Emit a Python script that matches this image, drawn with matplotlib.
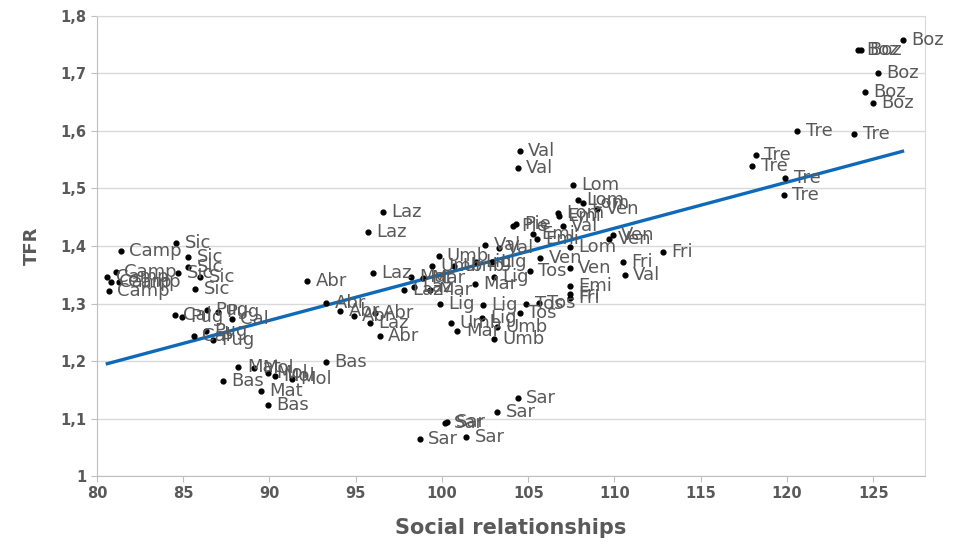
import numpy as np
import matplotlib.pyplot as plt

plt.rcParams['font.family'] = ['DejaVu Sans']

# Region labels, social relationships index (x) and TFR (y)
regions = (['Boz'] * 6 + ['Tre'] * 6 + ['Val'] * 6 + ['Lom'] * 5 + ['Ven'] * 5
           + ['Emi'] * 4 + ['Pie'] * 2 + ['Fri'] * 4 + ['Tos'] * 4 + ['Lig'] * 6
           + ['Umb'] * 6 + ['Mar'] * 5 + ['Laz'] * 6 + ['Abr'] * 6 + ['Camp'] * 6
           + ['Sic'] * 6 + ['Pug'] * 5 + ['Cal'] * 3 + ['Bas'] * 3 + ['Mat'] * 2
           + ['Mol'] * 4 + ['Sar'] * 6)

social = [126.7, 124.1, 124.3, 125.3, 124.5, 125.0,            # Boz
          120.6, 123.9, 118.2, 118.0, 119.9, 119.8,            # Tre
          104.5, 104.4, 110.6, 102.5, 103.3, 107.0,            # Val
          107.6, 107.9, 108.2, 106.7, 107.4,                   # Lom
          109.0, 109.9, 109.7, 105.7, 107.4,                   # Ven
          106.8, 105.3, 107.4, 105.5,                          # Emi
          104.1, 104.3,                                        # Pie
          112.8, 110.5, 107.4, 107.4,                          # Fri
          105.6, 104.9, 104.5, 105.1,                          # Tos
          99.9, 102.3, 102.4, 103.0, 102.0, 102.9,             # Lig
          99.8, 99.4, 100.7, 100.5, 103.0, 103.2,              # Umb
          98.2, 98.9, 99.3, 100.9, 101.9,                      # Mar
          96.6, 95.7, 96.0, 97.8, 98.4, 95.8,                  # Laz
          92.2, 93.3, 94.1, 94.9, 96.1, 96.4,                  # Abr
          81.4, 81.1, 80.6, 80.8, 81.3, 80.7,                  # Camp
          84.6, 85.3, 85.3, 84.7, 86.0, 85.7,                  # Sic
          84.9, 86.4, 87.0, 86.3, 86.7,                        # Pug
          84.5, 87.8, 85.6,                                    # Cal
          93.3, 87.3, 89.9,                                    # Bas
          88.2, 89.5,                                          # Mat
          89.9, 90.3, 91.3, 89.1,                              # Mol
          104.4, 103.2, 100.3, 100.2, 98.7, 101.4]             # Sar

tfr = [1.758, 1.741, 1.741, 1.701, 1.668, 1.649,               # Boz
       1.600, 1.595, 1.558, 1.539, 1.518, 1.489,               # Tre
       1.565, 1.536, 1.350, 1.402, 1.397, 1.435,               # Val
       1.506, 1.480, 1.475, 1.457, 1.398,                      # Lom
       1.464, 1.419, 1.412, 1.379, 1.362,                      # Ven
       1.452, 1.421, 1.330, 1.412,                             # Emi
       1.435, 1.438,                                           # Pie
       1.390, 1.372, 1.317, 1.310,                             # Fri
       1.301, 1.299, 1.283, 1.356,                             # Tos
       1.299, 1.275, 1.297, 1.346, 1.372, 1.372,               # Lig
       1.383, 1.365, 1.365, 1.266, 1.238, 1.259,               # Umb
       1.346, 1.344, 1.323, 1.252, 1.334,                      # Mar
       1.459, 1.424, 1.353, 1.323, 1.329, 1.266,               # Laz
       1.339, 1.301, 1.287, 1.278, 1.283, 1.243,               # Abr
       1.391, 1.355, 1.346, 1.337, 1.337, 1.322,               # Camp
       1.405, 1.381, 1.363, 1.353, 1.346, 1.325,               # Sic
       1.277, 1.289, 1.285, 1.252, 1.237,                      # Pug
       1.280, 1.273, 1.243,                                    # Cal
       1.198, 1.165, 1.123,                                    # Bas
       1.190, 1.148,                                           # Mat
       1.179, 1.174, 1.169, 1.188,                             # Mol
       1.136, 1.111, 1.094, 1.092, 1.064, 1.068]               # Sar

x_ticks = [80, 85, 90, 95, 100, 105, 110, 115, 120, 125]
y_ticks = [1.0, 1.1, 1.2, 1.3, 1.4, 1.5, 1.6, 1.7, 1.8]
y_tick_labels = ['1', '1,1', '1,2', '1,3', '1,4', '1,5', '1,6', '1,7', '1,8']

grey = '#595959'
fig = plt.figure(figsize=(9.64, 5.46), dpi=100)
ax = fig.add_axes([0.1006, 0.1282, 0.8589, 0.8425])

ax.scatter(social, tfr, s=12, color='black', zorder=3)
for lab, xv, yv in zip(regions, social, tfr):
    ax.annotate(lab, (xv, yv), xytext=(6, 0), textcoords='offset points',
                va='center', ha='left', fontsize=13, color=grey, zorder=4)

# linear trend
xs = np.array(social)
coef = np.polyfit(xs, np.array(tfr), 1)
xl = np.array([xs.min(), xs.max()])
ax.plot(xl, np.polyval(coef, xl), color='#0E6AB8', lw=2.4, zorder=2)

ax.set_xlim(80, 128)
ax.set_ylim(1.0, 1.8)
ax.set_xticks(x_ticks)
ax.set_yticks(y_ticks)
ax.set_yticklabels(y_tick_labels)
ax.tick_params(colors=grey, labelsize=10.5, length=4, color='#bfbfbf')
for t in ax.get_xticklabels() + ax.get_yticklabels():
    t.set_fontweight('bold')
ax.grid(axis='y', color='#d9d9d9', lw=1)
ax.set_axisbelow(True)
for sp in ax.spines.values():
    sp.set_color('#d9d9d9')
ax.spines['left'].set_color('#bfbfbf')
ax.spines['bottom'].set_color('#bfbfbf')

ax.set_xlabel('Social relationships', fontsize=15, fontweight='bold', color=grey, labelpad=12)
ax.set_ylabel('TFR', fontsize=13, fontweight='bold', color=grey, labelpad=14)

fig.savefig('out.png', dpi=100)
